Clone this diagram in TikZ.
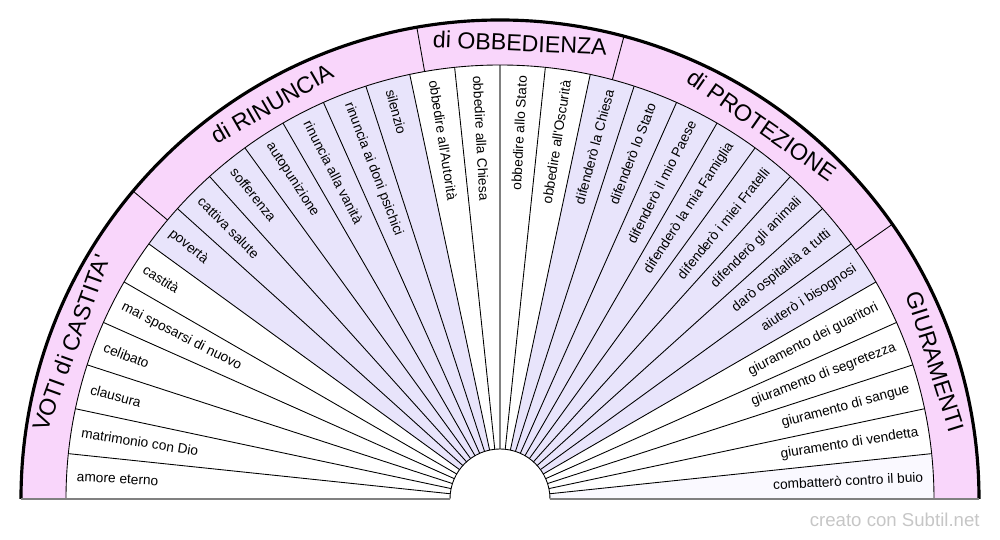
\documentclass[tikz,border=0pt]{standalone}
\usepackage{fontspec}
\setmainfont{Liberation Sans}

\definecolor{anello}{HTML}{F9D6FB}
\definecolor{lilla}{HTML}{E8E4FB}
\definecolor{chiaro}{HTML}{FAF9FF}

\tikzset{
    lblL/.style={anchor=west, inner sep=0pt, font=\fontsize{7.8}{9}\selectfont},
    lblR/.style={anchor=east, inner sep=0pt, font=\fontsize{7.8}{9}\selectfont},
    grp/.style={anchor=center, inner sep=0pt, font=\fontsize{13.2}{15}\selectfont},
    raggio/.style={draw=black, line width=0.5pt}
}

\begin{document}
\begin{tikzpicture}
        \useasboundingbox (-10,-0.82) rectangle (10,9.98);

        % anello esterno e settori colorati
        \fill[anello] (180:9.58) arc (180:0:9.58) -- (0:8.68) arc (0:180:8.68) -- cycle;
        \fill[lilla] (0,0) -- (144:8.68) arc (144:102:8.68) -- cycle;
        \fill[lilla] (0,0) -- (78:8.68) arc (78:30:8.68) -- cycle;
        \fill[chiaro] (0,0) -- (6:8.68) arc (6:0:8.68) -- cycle;
        \fill[white] (180:1) arc (180:0:1) -- cycle;

        % raggi
        \foreach \a in {6,12,...,84,96,102,...,174}
            \draw[raggio] (\a:1) -- (\a:8.68);
        \draw[gray, line width=1.1pt] (90:1) -- (90:8.68);

        % archi e divisori dei gruppi
        \draw[raggio] (180:8.68) arc (180:0:8.68);
        \draw[raggio] (180:1) arc (180:0:1);
        \foreach \a in {140,100,75,35}
            \draw[raggio] (\a:8.68) -- (\a:9.58);
        \draw[black, line width=1.8pt] (180:9.58) arc (180:0:9.58);
        \draw[gray, line width=1.1pt] (-9.58,0) -- (-1,0);
        \draw[gray, line width=1.1pt] (1,0) -- (9.58,0);

        % gruppi
        \node[grp, rotate=70] (voti) at (160:9.13) {VOTI di CASTITA\textquotesingle};
        \node[grp, rotate=30] (rinuncia) at (120:9.13) {di RINUNCIA};
        \node[grp, rotate=-2.5] (obbedienza) at (87.5:9.13) {di OBBEDIENZA};
        \node[grp, rotate=-35] (protezione) at (55:9.13) {di PROTEZIONE};
        \node[grp, rotate=-72.5] (giuramenti) at (17.5:9.13) {GIURAMENTI};

        % settori a sinistra
        \node[lblL, rotate=-3] (s1) at (177:8.48) {amore eterno};
        \node[lblL, rotate=-9] (s2) at (171:8.48) {matrimonio con Dio};
        \node[lblL, rotate=-15] (s3) at (165:8.48) {clausura};
        \node[lblL, rotate=-21] (s4) at (159:8.48) {celibato};
        \node[lblL, rotate=-27] (s5) at (153:8.48) {mai sposarsi di nuovo};
        \node[lblL, rotate=-33] (s6) at (147:8.48) {castità};
        \node[lblL, rotate=-39] (s7) at (141:8.48) {povertà};
        \node[lblL, rotate=-45] (s8) at (135:8.48) {cattiva salute};
        \node[lblL, rotate=-51] (s9) at (129:8.48) {sofferenza};
        \node[lblL, rotate=-57] (s10) at (123:8.48) {autopunizione};
        \node[lblL, rotate=-63] (s11) at (117:8.48) {rinuncia alla vanità};
        \node[lblL, rotate=-69] (s12) at (111:8.48) {rinuncia ai doni psichici};
        \node[lblL, rotate=-75] (s13) at (105:8.48) {silenzio};
        \node[lblL, rotate=-81] (s14) at (99:8.48) {obbedire all\textquotesingle Autorità};
        \node[lblL, rotate=-87] (s15) at (93:8.48) {obbedire alla Chiesa};

        % settori a destra
        \node[lblR, rotate=87] (s16) at (87:8.48) {obbedire allo Stato};
        \node[lblR, rotate=81] (s17) at (81:8.48) {obbedire all\textquotesingle Oscurità};
        \node[lblR, rotate=75] (s18) at (75:8.48) {difenderò la Chiesa};
        \node[lblR, rotate=69] (s19) at (69:8.48) {difenderò lo Stato};
        \node[lblR, rotate=63] (s20) at (63:8.48) {difenderò il mio Paese};
        \node[lblR, rotate=57] (s21) at (57:8.48) {difenderò la mia Famiglia};
        \node[lblR, rotate=51] (s22) at (51:8.48) {difenderò i miei Fratelli};
        \node[lblR, rotate=45] (s23) at (45:8.48) {difenderò gli animali};
        \node[lblR, rotate=39] (s24) at (39:8.48) {darò ospitalità a tutti};
        \node[lblR, rotate=33] (s25) at (33:8.48) {aiuterò i bisognosi};
        \node[lblR, rotate=27] (s26) at (27:8.48) {giuramento dei guaritori};
        \node[lblR, rotate=21] (s27) at (21:8.48) {giuramento di segretezza};
        \node[lblR, rotate=15] (s28) at (15:8.48) {giuramento di sangue};
        \node[lblR, rotate=9] (s29) at (9:8.48) {giuramento di vendetta};
        \node[lblR, rotate=3] (s30) at (3:8.48) {combatterò contro il buio};

        \node[anchor=east, inner sep=0pt, text=gray!45, font=\fontsize{10.6}{12}\selectfont] (firma) at (9.6,-0.42) {creato con Subtil.net};

    \end{tikzpicture}
\end{document}
